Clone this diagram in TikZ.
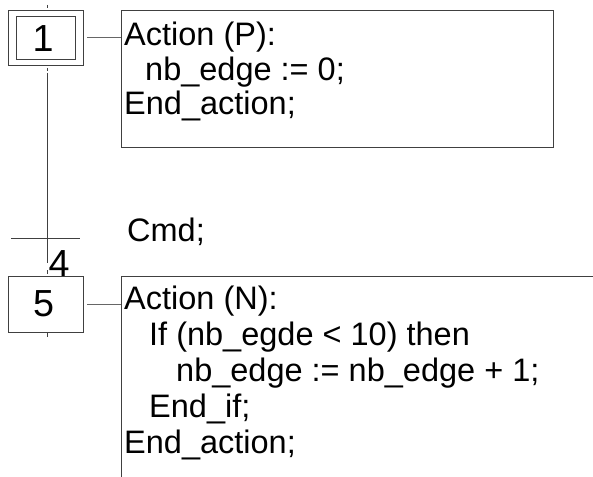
\documentclass[tikz,border=0pt]{standalone}
\usepackage{fontspec}
\setmainfont{Liberation Sans}
\begin{document}
\begin{tikzpicture}[x=1bp,y=-1bp,
  ln/.style={line width=1bp, draw=black!75},
  cn/.style={line width=1bp, draw=black!60},
  boxnode/.style={ln, inner sep=0, anchor=north west},
  txt/.style={anchor=base west, inner sep=0, font=\fontsize{32.5bp}{33bp}\selectfont},
  num/.style={inner sep=0, font=\fontsize{37.7bp}{38bp}\selectfont}]
\useasboundingbox (0,0) rectangle (593,477);
% step 1 (initial step)
\node[boxnode, minimum width=75bp, minimum height=55bp] (s1) at (7.5,10) {};
\node[boxnode, minimum width=59.5bp, minimum height=43bp] (s1i) at (15.5,16) {};
\node[num] (n1) at (43,38.5) {1};
% step 5
\node[boxnode, minimum width=75bp, minimum height=56bp] (s5) at (7.5,276) {};
\node[num] (n5) at (43.5,304) {5};
% ticks and vertical link
\coordinate (t1a) at (47,5); \coordinate (t1b) at (47,8);
\coordinate (t2a) at (47,68); \coordinate (t2b) at (47,71);
\coordinate (t3a) at (47,270); \coordinate (t3b) at (47,274);
\coordinate (t4a) at (47,333); \coordinate (t4b) at (47,337);
\draw[ln] (t1a) -- (t1b);
\draw[ln] (t2a) -- (t2b);
\draw[ln] (t3a) -- (t3b);
\draw[ln] (t4a) -- (t4b);
\coordinate (v1) at (47,73); \coordinate (v2) at (47,263);
\draw[ln] (v1) -- (v2);
% transition 4
\coordinate (trl) at (11,238); \coordinate (trr) at (80,238);
\draw[ln] (trl) -- (trr);
\node[num, anchor=base west] (lab4) at (48.5,276) {4};
\node[txt] (cmd) at (127,241) {Cmd;};
% action box 1
\node[boxnode, minimum width=432bp, minimum height=137bp] (a1) at (121,10) {};
\draw[cn] ([xshift=3.5bp]s1.east) -- (s1.east -| a1.west);
\node[txt] (a1l1) at (124,46) {Action (P):};
\node[txt] (a1l2) at (145,80.5) {nb\_edge := 0;};
\node[txt] (a1l3) at (124,115) {End\_action;};
% action box 2 (open)
\coordinate (a2ne) at (593,276); \coordinate (a2nw) at (121,276); \coordinate (a2sw) at (121,477);
\draw[ln] (a2ne) -- (a2nw) -- (a2sw);
\draw[cn] ([xshift=3.5bp]s5.east) -- (s5.east -| a2nw);
\node[txt] (a2l1) at (124,309.5) {Action (N):};
\node[txt] (a2l2) at (149,345.5) {If (nb\_egde < 10) then};
\node[txt] (a2l3) at (176,381) {nb\_edge := nb\_edge + 1;};
\node[txt] (a2l4) at (149,417) {End\_if;};
\node[txt] (a2l5) at (124,453) {End\_action;};
\end{tikzpicture}
\end{document}
